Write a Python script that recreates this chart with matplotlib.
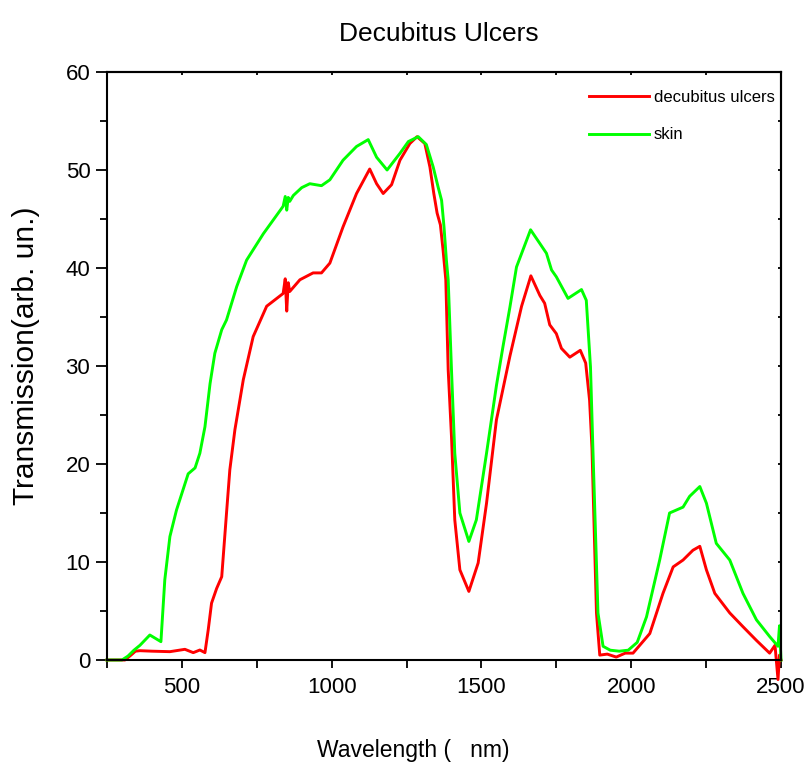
import matplotlib
matplotlib.use("Agg")
import matplotlib.pyplot as plt
from matplotlib.ticker import MultipleLocator

plt.rcParams['font.family'] = ['Liberation Sans', 'DejaVu Sans']

# transmission spectra, wavelength in nm
skin_wl = [250, 300, 320, 340, 360, 393, 430, 443, 460, 482, 521, 544, 560, 577,
           594, 610, 633, 649, 683, 716, 772, 838, 845, 850, 855, 860, 872, 900,
           927, 966, 994, 1038, 1083, 1122, 1150, 1185, 1228, 1256, 1289, 1316,
           1339, 1355, 1367, 1375, 1383, 1389, 1400, 1411, 1428, 1458, 1483, 1517,
           1550, 1572, 1595, 1617, 1664, 1695, 1717, 1734, 1750, 1789, 1834, 1850,
           1864, 1872, 1889, 1906, 1930, 1960, 1990, 2020, 2051, 2095, 2128, 2173,
           2195, 2229, 2251, 2284, 2329, 2373, 2418, 2462, 2490, 2495, 2500]
skin_t = [0, 0, 0.4, 1.0, 1.5, 2.55, 1.87, 8.2, 12.6, 15.3, 19.0, 19.6, 21.1, 23.8,
          28.2, 31.3, 33.7, 34.7, 38.1, 40.8, 43.5, 46.3, 47.3, 45.9, 47.2, 46.8,
          47.4, 48.2, 48.6, 48.4, 49.0, 51.0, 52.4, 53.1, 51.3, 50.0, 51.7, 52.9,
          53.4, 52.6, 50.3, 48.3, 46.9, 44.2, 40.8, 38.8, 29.6, 21.1, 15.0, 12.1,
          14.3, 21.1, 28.0, 32.0, 36.0, 40.1, 43.9, 42.5, 41.5, 39.8, 39.1, 36.9,
          37.8, 36.7, 29.9, 21.6, 4.8, 1.4, 1.0, 0.9, 1.0, 1.8, 4.4, 10.2, 15.0,
          15.6, 16.7, 17.7, 16.0, 11.9, 10.2, 6.8, 4.1, 2.4, 1.4, 3.5, 0]

ulcer_wl = [250, 310, 330, 345, 360, 400, 460, 510, 538, 560, 577, 588, 599, 616,
            633, 649, 660, 677, 705, 738, 783, 838, 845, 850, 855, 860, 894, 938,
            966, 994, 1038, 1083, 1127, 1150, 1172, 1200, 1228, 1261, 1285, 1311,
            1328, 1341, 1352, 1363, 1372, 1381, 1389, 1400, 1411, 1428, 1458, 1489,
            1517, 1550, 1595, 1634, 1665, 1695, 1711, 1728, 1750, 1767, 1795, 1830,
            1848, 1861, 1869, 1884, 1895, 1920, 1950, 1980, 2006, 2062, 2106, 2140,
            2173, 2206, 2229, 2251, 2279, 2329, 2373, 2418, 2462, 2480, 2490, 2495,
            2500]
ulcer_t = [0, 0, 0.5, 0.9, 0.95, 0.9, 0.85, 1.09, 0.75, 1.02, 0.75, 3.1, 5.8, 7.3,
           8.5, 15.0, 19.4, 23.5, 28.6, 33.0, 36.1, 37.4, 38.9, 35.6, 38.5, 37.6,
           38.8, 39.5, 39.5, 40.5, 44.2, 47.6, 50.1, 48.6, 47.6, 48.5, 51.0, 52.7,
           53.4, 52.7, 50.3, 47.6, 45.6, 44.4, 41.8, 38.8, 29.6, 22.8, 14.3, 9.2,
           7.0, 9.9, 16.0, 24.5, 31.0, 36.1, 39.2, 37.2, 36.4, 34.2, 33.3, 31.8,
           30.9, 31.6, 30.3, 26.5, 21.6, 4.8, 0.5, 0.6, 0.3, 0.7, 0.7, 2.7, 6.8,
           9.5, 10.2, 11.2, 11.6, 9.2, 6.8, 4.8, 3.4, 2.0, 0.7, 1.5, -2.0, 0.5, 0]

x_ticks = [500, 1000, 1500, 2000, 2500]
y_ticks = [0, 10, 20, 30, 40, 50, 60]

fig = plt.figure(figsize=(8.06, 7.71), dpi=100)
ax = fig.add_axes([107 / 806, 111 / 771, 674 / 806, 588 / 771])

ax.plot(ulcer_wl, ulcer_t, color='#ff0000', lw=2.1, label='decubitus ulcers', clip_on=False)
ax.plot(skin_wl, skin_t, color='#00ff00', lw=2.1, label='skin', clip_on=False)

ax.set_xlim(250, 2500)
ax.set_ylim(0, 60)
ax.set_xticks(x_ticks)
ax.set_yticks(y_ticks)
ax.xaxis.set_minor_locator(MultipleLocator(250))
ax.yaxis.set_minor_locator(MultipleLocator(5))
ax.tick_params(axis='x', which='major', direction='out', length=6, width=1.3,
               labelsize=16, pad=6)
ax.tick_params(axis='x', which='minor', direction='out', length=6, width=1.3)
ax.tick_params(axis='y', which='major', direction='out', length=8, width=1.3,
               labelsize=16, pad=4)
ax.tick_params(axis='y', which='minor', direction='out', length=5, width=1.3)

# short inward ticks on the top and right frame
top = ax.secondary_xaxis('top')
top.xaxis.set_major_locator(MultipleLocator(250))
top.tick_params(direction='in', length=2.5, width=1.3, labeltop=False)
right = ax.secondary_yaxis('right')
right.yaxis.set_major_locator(MultipleLocator(5))
right.tick_params(direction='in', length=2.5, width=1.3, labelright=False)

for sp in list(ax.spines.values()) + [top.spines['top'], right.spines['right']]:
    sp.set_linewidth(1.5)

ax.set_title('Decubitus Ulcers', fontsize=19, pad=22, x=0.4926)
ax.set_xlabel('Wavelength (   nm)', fontsize=16.5)
ax.xaxis.set_label_coords((413 - 107) / 674, -0.135)
ax.set_ylabel('Transmission(arb. un.)', fontsize=21.5)
ax.yaxis.set_label_coords(-0.10, 0.517)

ax.legend(loc='upper right', bbox_to_anchor=(1.013, 0.995), frameon=False,
          fontsize=12, handlelength=3.6, handletextpad=0.3, labelspacing=1.35)

fig.savefig('out.png', dpi=100)
